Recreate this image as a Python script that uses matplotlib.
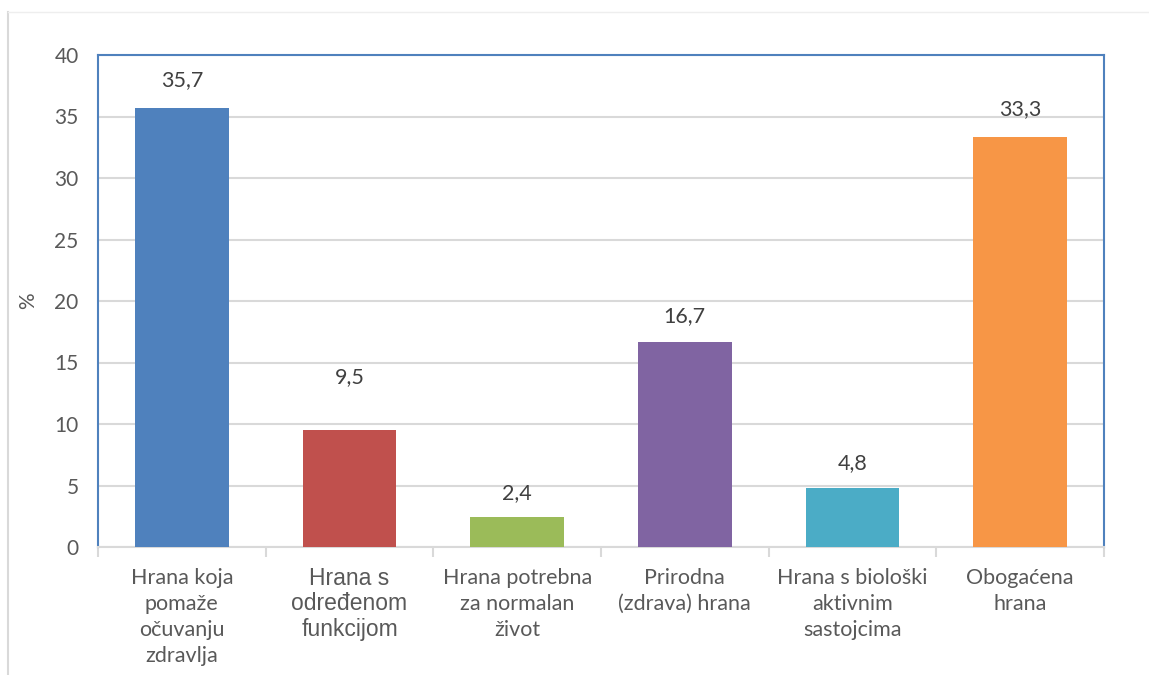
import matplotlib.pyplot as plt
from matplotlib.lines import Line2D

categories = [
    "Hrana koja\npomaže\nočuvanju\nzdravlja",
    "Hrana s\nodređenom\nfunkcijom",
    "Hrana potrebna\nza normalan\nživot",
    "Prirodna\n(zdrava) hrana",
    "Hrana s biološki\naktivnim\nsastojcima",
    "Obogaćena\nhrana",
]
values = [35.7, 9.5, 2.4, 16.7, 4.8, 33.3]
value_labels = ["35,7", "9,5", "2,4", "16,7", "4,8", "33,3"]
colors = ["#4F81BD", "#C0504D", "#9BBB59", "#8064A2", "#4BACC6", "#F79646"]
y_ticks = [0, 5, 10, 15, 20, 25, 30, 35, 40]

text_col = "#595959"
fig = plt.figure(figsize=(11.49, 6.75), dpi=100)
ax = fig.add_axes([98 / 1149, 1 - 547 / 675, 1006 / 1149, 492 / 675])

x = list(range(len(values)))
ax.bar(x, values, width=0.56, color=colors, zorder=3)
ax.set_xlim(-0.5, len(values) - 0.5)
ax.set_ylim(0, 40)
ax.set_yticks(y_ticks)
ax.set_yticklabels([str(t) for t in y_ticks], fontsize=15, color=text_col, family="Lato")
ax.tick_params(axis="y", length=0, pad=14)
ax.grid(axis="y", color="#D9D9D9", linewidth=1.5, zorder=0)

# category boundaries as ticks
ax.set_xticks([i - 0.5 for i in range(len(values) + 1)])
ax.set_xticklabels([])
ax.tick_params(axis="x", length=7, width=1.5, color="#D9D9D9", direction="out")
for i, lab in enumerate(categories):
    if i == 1:
        ax.text(i, -0.04, lab, transform=ax.get_xaxis_transform(), ha="center", va="top",
                fontsize=16.5, color=text_col, family="Liberation Sans", linespacing=1.15)
    else:
        ax.text(i, -0.042, lab, transform=ax.get_xaxis_transform(), ha="center", va="top",
                fontsize=15.5, color=text_col, family="Lato", linespacing=1.38)

label_offsets = [13, 31, 10, 11, 11, 13]
for i, (v, s) in enumerate(zip(values, value_labels)):
    ax.annotate(s, (i, v), xytext=(0, label_offsets[i]), textcoords="offset points",
                ha="center", va="bottom", fontsize=15.5, color="#404040", family="Lato")

for side in ["left", "top", "right"]:
    ax.spines[side].set_color("#4F81BD")
    ax.spines[side].set_linewidth(1.5)
ax.spines["bottom"].set_color("#D9D9D9")
ax.spines["bottom"].set_linewidth(1.5)

ax.set_ylabel("%", fontsize=15, color=text_col, family="Lato")
ax.yaxis.set_label_coords((38 - 98) / 1006, 0.5)

# outer chart frame
fig.add_artist(Line2D([8 / 1149, 8 / 1149], [0, 1 - 12 / 675], color="#D9D9D9", linewidth=1.5))
fig.add_artist(Line2D([8 / 1149, 1], [1 - 12 / 675, 1 - 12 / 675], color="#EEEEEE", linewidth=1))

fig.savefig("out.png", dpi=100)
